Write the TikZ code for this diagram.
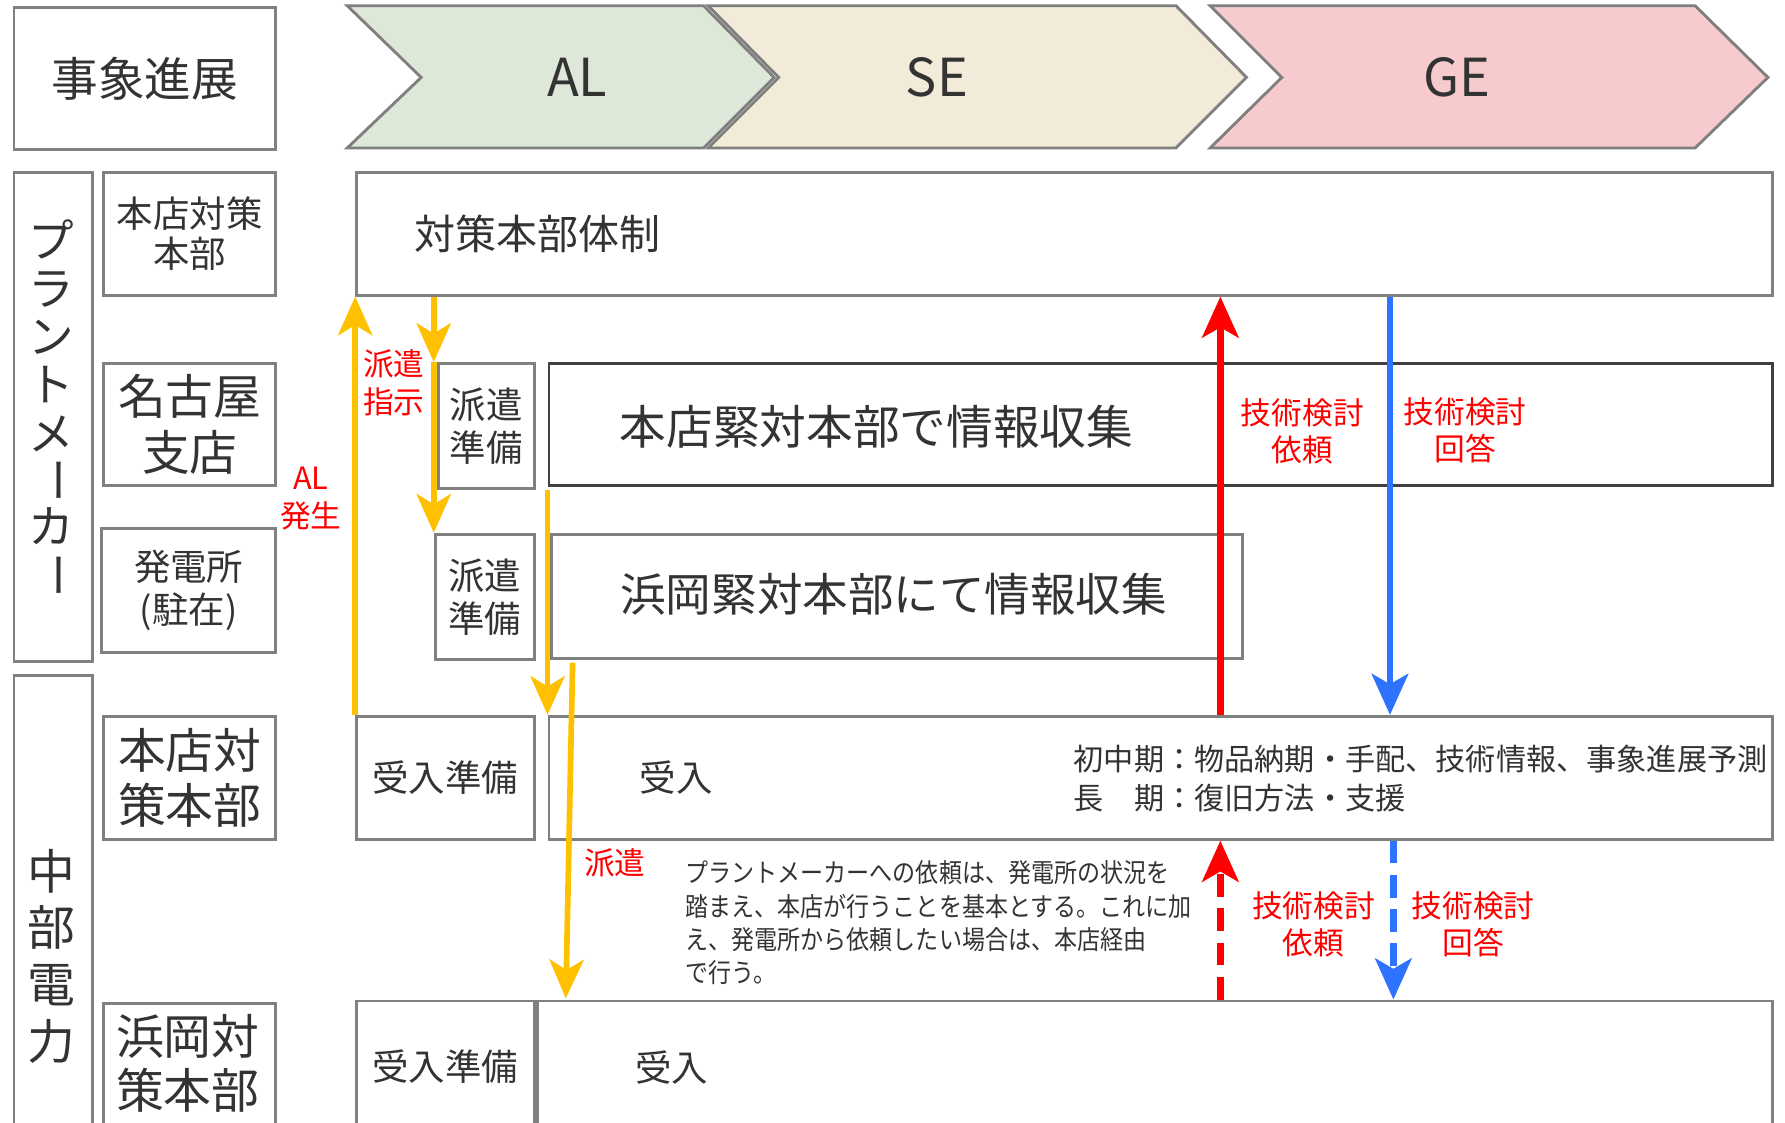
\documentclass[tikz,border=0pt]{standalone}
\usepackage{fontspec}
\setmainfont{Noto Sans CJK JP}
\newfontfamily\jpcond[FakeStretch=0.88]{Noto Sans CJK JP}
\usetikzlibrary{arrows.meta}
\definecolor{bgray}{HTML}{7F7F7F}
\definecolor{dgray}{HTML}{404040}
\definecolor{txt}{HTML}{333333}
\definecolor{alc}{HTML}{DDE8D8}
\definecolor{sec}{HTML}{F2EBDA}
\definecolor{gec}{HTML}{F7CBCD}
\definecolor{ayel}{HTML}{FFC000}
\definecolor{ared}{HTML}{FF0000}
\definecolor{ablu}{HTML}{2E73FF}
\newcommand{\fs}[2]{\fontsize{#1pt}{#2pt}\selectfont}
\begin{document}
\begin{tikzpicture}[x=1pt,y=-1pt,
  bx/.style={draw=bgray, line width=2.5pt, fill=white, inner sep=0pt, anchor=north west, text=txt, align=center},
  tx/.style={inner sep=0pt, text=txt, align=center},
  rl/.style={inner sep=0pt, text=ared, align=center, font=\fs{27}{33}},
  ya/.style={draw=ayel, line width=5pt, -{Stealth[length=34pt,width=30pt,inset=9pt]}},
  ra/.style={draw=ared, line width=6pt, -{Stealth[length=36pt,width=32pt,inset=9pt]}},
  ba/.style={draw=ablu, line width=6pt, -{Stealth[length=36pt,width=32pt,inset=9pt]}},
  dsh/.style={dash pattern=on 20pt off 10pt},
  chev/.style={draw=bgray, line width=2.5pt, line join=miter}
]
\useasboundingbox (0,0) rectangle (1568,986);
\clip (0,0) rectangle (1568,986);

% header
\node[bx, minimum width=230pt, minimum height=125pt] (jisho) at (11,5) {};
\node[tx, font=\fs{41}{41}] (jishot) at (jisho.center) {事象進展};
\draw[chev, fill=sec] (622,5) -- (1033,5) -- (1095,68) -- (1033,130) -- (622,130) -- (684,68) -- cycle;
\draw[chev, fill=alc] (305,5) -- (618,5) -- (680,68) -- (618,130) -- (305,130) -- (370,68) -- cycle;
\draw[chev, fill=gec] (1063,5) -- (1489,5) -- (1553,68) -- (1489,130) -- (1063,130) -- (1126,68) -- cycle;
\node[tx, font=\fs{46}{46}] (al) at (507,68) {AL};
\node[tx, font=\fs{46}{46}] (se) at (823,68) {SE};
\node[tx, font=\fs{46}{46}] (ge) at (1280,68) {GE};

% left labels
\node[bx, minimum width=69pt, minimum height=430pt] (pm) at (11,150) {};
\node[bx, minimum width=69pt, minimum height=418pt] (chubu) at (11,592) {};
\foreach \c/\yy [count=\i] in {プ/210,ラ/254,ン/296,ト/338,メ/381}
  \node[tx, font=\fs{40}{40}] (pmc\i) at (45,\yy) {\c};
\node[tx, font=\fs{40}{40}] (pmc6) at (45,422) {\rotatebox{-90}{ー}};
\node[tx, font=\fs{40}{40}] (pmc7) at (45,462) {カ};
\node[tx, font=\fs{40}{40}] (pmc8) at (45,505) {\rotatebox{-90}{ー}};
\foreach \c/\yy [count=\i] in {中/765,部/815,電/865,力/915}
  \node[tx, font=\fs{42}{42}] (cbc\i) at (45,\yy) {\c};

\node[bx, minimum width=151pt, minimum height=108pt] (hq1) at (90,150) {};
\node[tx, font=\fs{32}{35}] at (hq1.center) {本店対策\\本部};
\node[bx, minimum width=151pt, minimum height=107pt] (nagoya) at (90,318) {};
\node[tx, font=\fs{42}{50}] at (nagoya.center) {名古屋\\支店};
\node[bx, minimum width=153pt, minimum height=109pt] (hatsu) at (88,463) {};
\node[tx, font=\fs{32}{38}] at (hatsu.center) {発電所\\(駐在)};
\node[bx, minimum width=151pt, minimum height=108pt] (hq2) at (90,628) {};
\node[tx, font=\fs{42}{48}] at (hq2.center) {本店対\\策本部};
\node[bx, minimum width=151pt, minimum height=110pt] (hama) at (90,880) {};
\node[tx, font=\fs{42}{48}] at (165,934) {浜岡対\\策本部};

% main boxes
\node[bx, minimum width=1244pt, minimum height=108pt] (taisaku) at (312,150) {};
\node[tx, font=\fs{36}{36}, anchor=west] at (364,205) {対策本部体制};
\node[bx, minimum width=84pt, minimum height=110pt] (haken1) at (384,318) {};
\node[tx, font=\fs{32}{38}] at (haken1.center) {派遣\\準備};
\node[bx, draw=dgray, minimum width=1075pt, minimum height=107pt] (honten) at (481,318) {};
\node[tx, font=\fs{41}{41}] at (770,375) {本店緊対本部で情報収集};
\node[bx, minimum width=87pt, minimum height=110pt] (haken2) at (381,468) {};
\node[tx, font=\fs{32}{38}] at (haken2.center) {派遣\\準備};
\node[bx, minimum width=607pt, minimum height=109pt] (hamaoka) at (483,468) {};
\node[tx, font=\fs{40}{40}] at (785,522) {浜岡緊対本部にて情報収集};
\node[bx, minimum width=156pt, minimum height=108pt] (ukej1) at (312,628) {};
\node[tx, font=\fs{32}{32}] at (ukej1.center) {受入準備};
\node[bx, minimum width=1075pt, minimum height=108pt] (ukeire1) at (481,628) {};
\node[tx, font=\fs{32}{32}] at (594,683) {受入};
\node[tx, font=\fs{26.5}{34}, anchor=west] at (943,667) {初中期：物品納期・手配、技術情報、事象進展予測};
\node[tx, font=\fs{26.5}{34}, anchor=west] at (943,701) {長　期：復旧方法・支援};
\node[bx, minimum width=156pt, minimum height=122pt] (ukej2) at (312,878) {};
\node[tx, font=\fs{32}{32}] at (391,937) {受入準備};
\node[bx, minimum width=1085pt, minimum height=122pt] (ukeire2) at (471,878) {};
\node[tx, font=\fs{32}{32}] at (590,938) {受入};

% note
\node[tx, align=left, anchor=north west, font={\jpcond\fs{23}{29.3}}] (note) at (602,756)
 {プラントメーカーへの依頼は、発電所の状況を\\踏まえ、本店が行うことを基本とする。これに加\\え、発電所から依頼したい場合は、本店経由\\で行う。};

% red labels
\node[rl] at (346,336) {派遣\\指示};
\node[rl] at (273,438) {AL\\発生};
\node[rl] at (1144,379) {技術検討\\依頼};
\node[rl] at (1287,378) {技術検討\\回答};
\node[rl] at (540,758) {派遣};
\node[rl] at (1154,812) {技術検討\\依頼};
\node[rl] at (1294,812) {技術検討\\回答};

% arrows
\coordinate (rx) at (1072,0);
\coordinate (bx1) at (1221,0);
\coordinate (bx2) at (1224,0);
\coordinate (y3s) at (481,430);
\coordinate (y4s) at (503,582);
\coordinate (y4e) at (497,877);
\draw[ya] (ukej1.north west) -- (taisaku.south west);
\draw[ya] (taisaku.south -| haken2.north west) -- (haken1.north -| haken2.north west);
\draw[ya] (haken1.north -| haken2.north west) -- (haken2.north west);
\draw[ya] (y3s) -- (ukeire1.north west);
\draw[ya] (y4s) -- (y4e);
\draw[ra] (ukeire1.north -| rx) -- (taisaku.south -| rx);
\draw[ba] (taisaku.south -| bx1) -- (ukeire1.north -| bx1);
\draw[ra,dsh] (ukeire2.north -| rx) -- (ukeire1.south -| rx);
\draw[ba,dsh] (ukeire1.south -| bx2) -- (ukeire2.north -| bx2);
\end{tikzpicture}
\end{document}
